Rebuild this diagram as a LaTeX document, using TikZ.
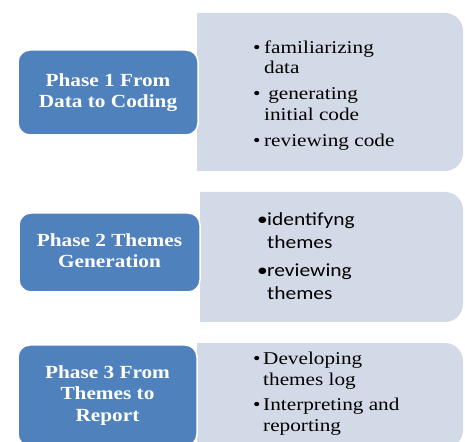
\documentclass[tikz,border=0pt]{standalone}
\usepackage{fontspec}
\usepackage{graphicx}
\setmainfont{Liberation Serif}
\newfontfamily\listsans{Carlito}
\definecolor{phaseblue}{HTML}{4F81BD}
\definecolor{listgray}{HTML}{D3DAE7}
\newcommand\litem[2]{\par\hangindent=#1\hangafter=1\noindent\strut\makebox[#1][l]{•}#2\par}
\newcommand\listbox[3]{\scalebox{#1}[1]{\begin{minipage}[t]{#2}\raggedright #3\end{minipage}}}
\newcommand\phasetext[1]{\scalebox{1.15}[1]{\begin{tabular}{@{}c@{}}#1\end{tabular}}}
\tikzset{
  phasebox/.style={fill=phaseblue, draw=white, line width=1.5pt, rounded corners=12pt,
    text=white, align=center, inner sep=0pt,
    font=\bfseries\fontsize{18.5}{21.5}\selectfont},
  listtext/.style={anchor=north west, inner sep=0pt, text=black},
  panel/.style={fill=listgray}
}
\begin{document}
\begin{tikzpicture}[x=1pt,y=1pt]
\useasboundingbox (0,0) rectangle (465,441);
\clip (0,0) rectangle (465,441);
% gray panels (right corners rounded)
\fill[panel] (197,428) -- (445,428) arc[start angle=90,end angle=0,radius=18pt]
  -- (463,288) arc[start angle=0,end angle=-90,radius=18pt] -- (197,270) -- cycle;
\fill[panel] (200,249) -- (445,249) arc[start angle=90,end angle=0,radius=18pt]
  -- (463,137) arc[start angle=0,end angle=-90,radius=18pt] -- (200,119) -- cycle;
\fill[panel] (197,98) -- (445,98) arc[start angle=90,end angle=0,radius=18pt]
  -- (463,11) arc[start angle=0,end angle=-90,radius=18pt] -- (197,-7) -- cycle;
% phase boxes
\node[phasebox, minimum width=180pt, minimum height=85pt] (p1) at (108,348.5)
  {\phasetext{Phase 1 From\\Data to Coding}};
\node[phasebox, minimum width=181pt, minimum height=79pt] (p2) at (109.5,188.5)
  {\phasetext{Phase 2 Themes\\Generation}};
\node[phasebox, minimum width=179pt, minimum height=101pt] (p3) at (107.5,45.5)
  {\phasetext{Phase 3 From\\Themes to\\Report}};
% lists
\node[listtext, font=\fontsize{18}{20.5}\selectfont] (l1) at (253,402.35)
  {\listbox{1.18}{170pt}{%
   \litem{9.3pt}{familiarizing\newline data}\vspace{5.5pt}%
   \litem{9.3pt}{\hspace{3.5pt}generating\newline initial code}\vspace{5.5pt}%
   \litem{9.3pt}{reviewing code}}};
\node[listtext, font=\listsans\fontsize{18.5}{23}\selectfont] (l2) at (257,231.6)
  {\listbox{1.16}{160pt}{%
   \litem{8.6pt}{identifyng\newline themes}\vspace{5pt}%
   \litem{8.6pt}{reviewing\newline themes}}};
\node[listtext, font=\fontsize{18}{21}\selectfont] (l3) at (253,91.7)
  {\listbox{1.18}{170pt}{%
   \litem{8.5pt}{Developing\newline themes log}\vspace{4pt}%
   \litem{8.5pt}{Interpreting and\newline reporting}}};
\end{tikzpicture}
\end{document}
